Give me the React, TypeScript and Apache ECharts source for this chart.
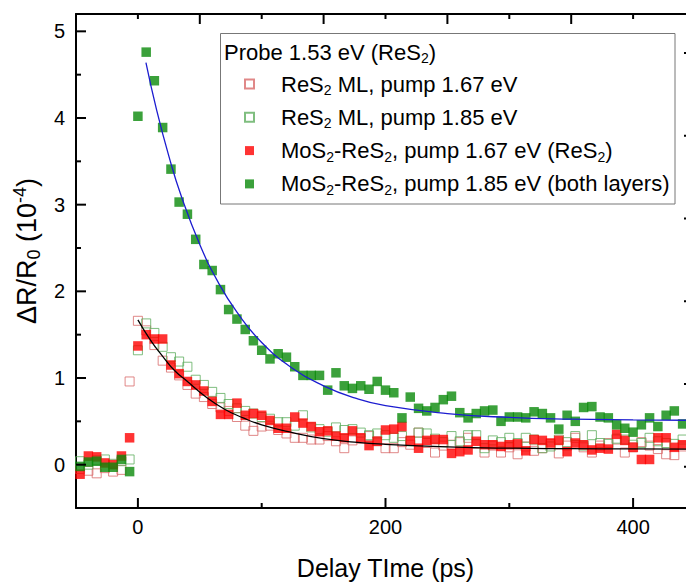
import React, { useEffect, useRef } from 'react';
import * as echarts from 'echarts';

// Delay times (ps)
const delayTimes = [
  -46.7, -40, -33.3, -26.7, -20, -13.3, -6.7, 0,
  6.7, 13.3, 20, 26.7, 33.3, 40, 46.7, 53.3, 60, 66.7,
  73.3, 80, 86.7, 93.3, 100, 106.7, 113.3, 120, 126.7, 133.3,
  140, 146.7, 153.3, 160, 166.7, 173.3, 180, 186.7, 193.3, 200,
  206.7, 213.3, 220, 226.7, 233.3, 240, 246.7, 253.3, 260, 266.7,
  273.3, 280, 286.7, 293.3, 300, 306.7, 313.3, 320, 326.7, 333.3,
  340, 346.7, 353.3, 360, 366.7, 373.3, 380, 386.7, 393.3, 400,
  406.7, 413.3, 420, 426.7, 433.3, 440,
];

// ReS2 ML, pump 1.67 eV (open red)
const res2Pump167 = [
  -0.05, -0.07, -0.10, -0.04, -0.08, -0.06, 0.96, 1.66,
  1.55, 1.38, 1.20, 1.12, 1.03, 0.92, 0.82, 0.78, 0.70, 0.66,
  0.62, 0.55, 0.45, 0.39, 0.44, 0.45, 0.40, 0.36, 0.31, 0.31,
  0.29, 0.29, 0.33, 0.27, 0.19, 0.28, 0.30, 0.33, 0.27, 0.19,
  0.19, 0.26, 0.23, 0.37, 0.25, 0.14, 0.22, 0.23, 0.26, 0.31,
  0.24, 0.14, 0.22, 0.14, 0.20, 0.12, 0.21, 0.16, 0.19, 0.24,
  0.13, 0.22, 0.31, 0.20, 0.14, 0.22, 0.25, 0.29, 0.14, 0.20,
  0.26, 0.22, 0.18, 0.12, 0.11, 0.21,
];

// ReS2 ML, pump 1.85 eV (open green)
const res2Pump185 = [
  0.04, 0.00, 0.05, 0.06, 0.01, 0.04, 0.06, 1.32,
  1.63, 1.52, 1.36, 1.24, 1.19, 1.13, 0.98, 0.92, 0.84, 0.77,
  0.70, 0.65, 0.62, 0.59, 0.55, 0.53, 0.49, 0.49, 0.45, 0.57,
  0.43, 0.41, 0.38, 0.43, 0.40, 0.41, 0.37, 0.34, 0.36, 0.34,
  0.31, 0.33, 0.27, 0.37, 0.36, 0.30, 0.26, 0.33, 0.27, 0.34,
  0.34, 0.19, 0.28, 0.26, 0.31, 0.25, 0.31, 0.29, 0.19, 0.21,
  0.29, 0.26, 0.33, 0.22, 0.34, 0.25, 0.24, 0.30, 0.29, 0.23,
  0.25, 0.31, 0.27, 0.25, 0.24, 0.29,
];

// MoS2-ReS2, pump 1.67 eV (filled red)
const heteroPump167 = [
  -0.11, 0.10, 0.09, 0.02, 0.00, 0.10, 0.31, 1.37,
  1.50, 1.45, 1.45, 1.15, 1.05, 0.96, 0.92, 0.85, 0.73, 0.58,
  0.58, 0.71, 0.57, 0.59, 0.57, 0.51, 0.42, 0.42, 0.55, 0.48,
  0.44, 0.38, 0.39, 0.33, 0.31, 0.39, 0.31, 0.22, 0.27, 0.40,
  0.41, 0.44, 0.28, 0.19, 0.28, 0.29, 0.29, 0.13, 0.15, 0.17,
  0.27, 0.23, 0.23, 0.21, 0.23, 0.24, 0.16, 0.29, 0.28, 0.25,
  0.28, 0.15, 0.25, 0.23, 0.17, 0.19, 0.18, 0.35, 0.28, 0.20,
  0.06, 0.06, 0.31, 0.31, 0.20, 0.23,
];

// MoS2-ReS2, pump 1.85 eV (filled green)
const heteroPump185 = [
  -0.02, 0.03, 0.04, -0.03, -0.03, 0.06, -0.08, 4.02,
  4.76, 4.43, 3.89, 3.41, 3.03, 2.89, 2.60, 2.31, 2.24, 2.02,
  1.79, 1.68, 1.56, 1.43, 1.32, 1.22, 1.28, 1.24, 1.13, 1.03,
  1.03, 1.03, 0.86, 1.06, 0.91, 0.88, 0.91, 0.87, 0.96, 0.86,
  0.83, 0.54, 0.78, 0.65, 0.62, 0.66, 0.75, 0.79, 0.60, 0.54,
  0.59, 0.62, 0.63, 0.50, 0.55, 0.55, 0.54, 0.61, 0.59, 0.54,
  0.41, 0.57, 0.50, 0.66, 0.67, 0.55, 0.54, 0.46, 0.42, 0.375,
  0.46, 0.54, 0.44, 0.57, 0.62, 0.47,
];

// Fit curves
const blueFitTimes = [6.5, 15, 25, 35, 50, 65, 80, 100, 125, 150, 175, 200, 250, 300, 350, 400, 450];
const blueFitValues = [4.64, 4.1, 3.56, 3.1, 2.54, 2.1, 1.76, 1.41, 1.11, 0.91, 0.77, 0.68, 0.59, 0.545, 0.525, 0.517, 0.512];
const blackFitTimes = [0, 10, 20, 30, 40, 55, 70, 85, 100, 125, 150, 175, 200, 250, 300, 350, 400, 450];
const blackFitValues = [1.67, 1.44, 1.25, 1.08, 0.96, 0.78, 0.64, 0.54, 0.46, 0.37, 0.3, 0.26, 0.235, 0.205, 0.19, 0.185, 0.182, 0.18];

// Axis ranges and ticks
const xRange = [-50, 450];
const yRange = [-0.5, 5.2];
const rightRange = [-0.5, 5.47];
const xLabelTicks = [0, 200, 400];
const xMinorTicks = [100, 300];
const topMajorTicks = [50, 150, 250, 350];
const topMinorTicks = [0, 100, 200, 300, 400];
const yLabelTicks = [0, 1, 2, 3, 4, 5];
const yMinorTicks = [0.5, 1.5, 2.5, 3.5, 4.5];
const rightTicks = [0, 1, 2, 3, 4, 5];

const seriesNames = [
  'ReS2 ML, pump 1.67 eV',
  'ReS2 ML, pump 1.85 eV',
  'MoS2-ReS2, pump 1.67 eV (ReS2)',
  'MoS2-ReS2, pump 1.85 eV (both layers)',
];
const legendRich: Record<string, string> = {
  'ReS2 ML, pump 1.67 eV': '{a|ReS}{s|2}{a| ML, pump 1.67 eV}',
  'ReS2 ML, pump 1.85 eV': '{a|ReS}{s|2}{a| ML, pump 1.85 eV}',
  'MoS2-ReS2, pump 1.67 eV (ReS2)': '{a|MoS}{s|2}{a|-ReS}{s|2}{a|, pump 1.67 eV (ReS}{s|2}{a|)}',
  'MoS2-ReS2, pump 1.85 eV (both layers)': '{a|MoS}{s|2}{a|-ReS}{s|2}{a|, pump 1.85 eV (both layers)}',
};

const FONT = 'Arial, "Liberation Sans", sans-serif';
const RED = '#ff0000';
const GREEN = '#0a8a0a';
const OPEN_RED = '#d86a6a';
const OPEN_GREEN = '#5fae5f';

const richStyles = {
  a: { fontSize: 22, lineHeight: 26, fontFamily: FONT, color: '#000' },
  s: { fontSize: 14, lineHeight: 4, verticalAlign: 'bottom', fontFamily: FONT, color: '#000' },
  p: { fontSize: 14, lineHeight: 16, verticalAlign: 'top', fontFamily: FONT, color: '#000' },
};

const pairs = (xs: number[], ys: number[]) => xs.map((x, i) => [x, ys[i]]);

// Layout
const W = 720;
const H = 585;
const PL = 76;
const PR = 25;
const PT = 14;
const PB = 74;
const SPINE = { color: '#000', width: 2 };

const legendFrame = {
  type: 'rect',
  id: 'legend-frame',
  shape: { x: 220.5, y: 33.5, width: 454.5, height: 170.5 },
  style: { fill: 'none', stroke: '#777', lineWidth: 1 },
  z: 10,
};
const legendTitle = {
  type: 'text',
  id: 'legend-title',
  x: 224,
  y: 39,
  style: {
    text: '{a|Probe 1.53 eV (ReS}{s|2}{a|)}',
    rich: richStyles,
    align: 'left',
    verticalAlign: 'top',
  },
  z: 10,
};

export default function App() {
  const ref = useRef<HTMLDivElement>(null);
  useEffect(() => {
    if (!ref.current) return;
    const chart = echarts.init(ref.current, undefined, { renderer: 'svg' });
    const option: any = {
      animation: false,
      backgroundColor: '#fff',
      textStyle: { fontFamily: FONT },
      grid: { left: PL, right: PR, top: PT, bottom: PB },
      xAxis: [
        {
          type: 'value', position: 'bottom', min: xRange[0], max: xRange[1],
          splitLine: { show: false },
          axisLine: { show: true, onZero: false, lineStyle: SPINE },
          axisTick: { show: false },
          axisLabel: { show: true, customValues: xLabelTicks, fontSize: 20, color: '#000', margin: 9, fontFamily: FONT },
          name: 'Delay TIme (ps)', nameLocation: 'middle', nameGap: 47,
          nameTextStyle: { fontSize: 25, color: '#000', fontFamily: FONT },
        },
        {
          type: 'value', position: 'top', min: xRange[0], max: xRange[1],
          splitLine: { show: false },
          axisLine: { show: true, onZero: false, lineStyle: SPINE },
          axisTick: { show: false }, axisLabel: { show: false },
        },
      ],
      yAxis: [
        {
          type: 'value', position: 'left', min: yRange[0], max: yRange[1],
          splitLine: { show: false },
          axisLine: { show: true, onZero: false, lineStyle: SPINE },
          axisTick: { show: false },
          axisLabel: { show: true, customValues: yLabelTicks, fontSize: 20, color: '#000', margin: 11, fontFamily: FONT },
          name: '{a|ΔR/R}{s|0}{a| (10}{p|-4}{a|)}',
          nameLocation: 'middle',
          nameRotate: 90,
          nameGap: 30,
          nameTextStyle: {
            padding: [0, 0, 0, 20],
            rich: {
              a: { fontSize: 27, lineHeight: 32, fontFamily: FONT, color: '#000' },
              s: { fontSize: 18, lineHeight: 4, verticalAlign: 'bottom', fontFamily: FONT, color: '#000' },
              p: { fontSize: 18, lineHeight: 20, verticalAlign: 'top', fontFamily: FONT, color: '#000' },
            },
          },
        },
        {
          type: 'value', position: 'right', min: yRange[0], max: yRange[1],
          splitLine: { show: false },
          axisLine: { show: true, onZero: false, lineStyle: SPINE },
          axisTick: { show: false }, axisLabel: { show: false },
        },
        {
          type: 'value', position: 'right', min: rightRange[0], max: rightRange[1],
          show: false,
        },
      ],
      legend: {
        orient: 'vertical',
        left: 244,
        top: 73,
        padding: 0,
        itemWidth: 9,
        itemHeight: 9,
        itemGap: 9.3,
        data: seriesNames.map((n) => ({ name: n, icon: 'rect' })),
        formatter: (name: string) => legendRich[name] || name,
        textStyle: { padding: [0, 0, 0, 22], rich: richStyles },
      },
      graphic: [legendFrame, legendTitle],
      series: [
        {
          name: seriesNames[0], type: 'scatter',
          symbol: 'rect', symbolSize: 9,
          itemStyle: { color: 'rgba(255,255,255,0)', borderColor: OPEN_RED, borderWidth: 1 },
          data: pairs(delayTimes, res2Pump167),
        },
        {
          name: seriesNames[1], type: 'scatter',
          symbol: 'rect', symbolSize: 9,
          itemStyle: { color: 'rgba(255,255,255,0)', borderColor: OPEN_GREEN, borderWidth: 1 },
          data: pairs(delayTimes, res2Pump185),
        },
        {
          name: seriesNames[2], type: 'scatter',
          symbol: 'rect', symbolSize: 9.5,
          itemStyle: { color: RED },
          data: pairs(delayTimes, heteroPump167),
        },
        {
          name: seriesNames[3], type: 'scatter',
          symbol: 'rect', symbolSize: 9.5,
          itemStyle: { color: GREEN },
          data: pairs(delayTimes, heteroPump185),
        },
        {
          name: 'fit-hetero', type: 'line',
          smooth: true, showSymbol: false, symbol: 'none',
          lineStyle: { color: '#1c1cd0', width: 1.3 },
          data: pairs(blueFitTimes, blueFitValues),
          z: 5,
        },
        {
          name: 'fit-ml', type: 'line',
          smooth: true, showSymbol: false, symbol: 'none',
          lineStyle: { color: '#000', width: 1.3 },
          data: pairs(blackFitTimes, blackFitValues),
          z: 5,
        },
      ],
    };
    chart.setOption(option);

    // Inside tick marks, placed through the axes' own scales
    const ticks: any[] = [];
    const addTick = (value: number[], dx: number, dy: number, yAxisIndex = 0) => {
      const p = chart.convertToPixel({ xAxisIndex: 0, yAxisIndex }, value) as number[];
      if (!p || !isFinite(p[0]) || !isFinite(p[1])) return;
      ticks.push({
        type: 'line',
        shape: { x1: p[0], y1: p[1], x2: p[0] + dx, y2: p[1] + dy },
        style: { stroke: '#000', lineWidth: 2 },
        z: 30,
        silent: true,
      });
    };
    xLabelTicks.forEach((v) => addTick([v, yRange[0]], 0, -10));
    xMinorTicks.forEach((v) => addTick([v, yRange[0]], 0, -5));
    topMajorTicks.forEach((v) => addTick([v, yRange[1]], 0, 10));
    topMinorTicks.forEach((v) => addTick([v, yRange[1]], 0, 5));
    yLabelTicks.forEach((v) => addTick([xRange[0], v], 10, 0));
    yMinorTicks.forEach((v) => addTick([xRange[0], v], 5, 0));
    rightTicks.forEach((v) => addTick([xRange[1], v], -11, 0, 2));
    chart.setOption({ graphic: [legendFrame, legendTitle, ...ticks] });

    return () => chart.dispose();
  }, []);

  return (
    <div style={{ position: 'absolute', left: 0, top: 0, width: 686, height: 585, overflow: 'hidden', background: '#fff' }}>
      <div ref={ref} style={{ width: W, height: H }} />
    </div>
  );
}
